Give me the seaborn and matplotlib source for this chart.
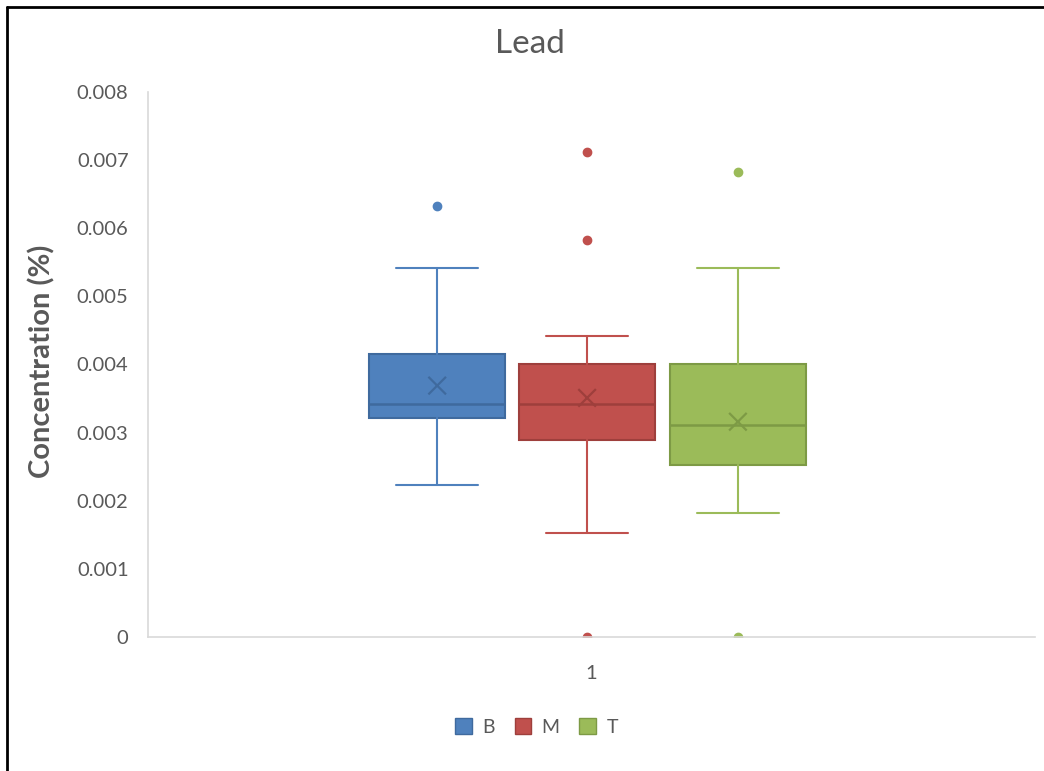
import matplotlib
matplotlib.use("Agg")
import matplotlib.pyplot as plt
from matplotlib.lines import Line2D
from matplotlib.patches import Patch
import seaborn as sns
import pandas as pd

# Summary statistics per series (concentration, %)
series = ["B", "M", "T"]
whisker_low = [0.00223, 0.00152, 0.00182]
q1 = [0.00322, 0.00289, 0.00252]
median = [0.00342, 0.00342, 0.00311]
q3 = [0.00416, 0.00401, 0.00401]
whisker_high = [0.00542, 0.00442, 0.00542]
mean = [0.00369, 0.00351, 0.00316]
outliers = [[0.00632], [0.00712, 0.00583, 0.0], [0.00682, 0.0]]
category_labels = ["1"]

fill_colors = ["#4F81BD", "#C0504D", "#9BBB59"]
edge_colors = ["#3F6A9E", "#9E3F3C", "#7D9A45"]
text_color = "#595959"
axis_color = "#D9D9D9"

sns.set_theme(style="white")
plt.rcParams["font.family"] = ["Lato", "DejaVu Sans"]

fig = plt.figure(figsize=(10.44, 7.71), dpi=100)
ax = fig.add_axes([0.1418, 0.1738, 0.8496, 0.7069])

offsets = [-0.174, -0.005, 0.165]
box_width = 0.154

for i, name in enumerate(series):
    stats = [{
        "whislo": whisker_low[i], "q1": q1[i], "med": median[i],
        "q3": q3[i], "whishi": whisker_high[i], "fliers": outliers[i],
        "label": name,
    }]
    ax.bxp(
        stats, positions=[offsets[i]], widths=box_width, patch_artist=True,
        showfliers=True, manage_ticks=False,
        boxprops=dict(facecolor=fill_colors[i], edgecolor=edge_colors[i], linewidth=1.5),
        medianprops=dict(color=edge_colors[i], linewidth=1.8),
        whiskerprops=dict(color=fill_colors[i], linewidth=1.5),
        capprops=dict(color=fill_colors[i], linewidth=1.5),
        capwidths=box_width * 0.6,
        flierprops=dict(marker="o", markerfacecolor=fill_colors[i],
                        markeredgecolor=fill_colors[i], markersize=6),
    )

# Mean markers
mean_df = pd.DataFrame({"x": offsets, "mean": mean, "series": series})
sns.scatterplot(data=mean_df, x="x", y="mean", hue="series",
                palette=edge_colors, marker="x", s=160, linewidth=1.6,
                legend=False, ax=ax, zorder=5)

ax.set_xlim(-0.5, 0.5)
ax.set_ylim(0, 0.008)
ax.set_yticks([i * 0.001 for i in range(9)])
ax.set_yticklabels(["0"] + [f"{i * 0.001:.3f}" for i in range(1, 9)])
ax.set_xticks([0])
ax.set_xticklabels(category_labels)
ax.set_xlabel("")
ax.set_ylabel("")
ax.tick_params(axis="y", length=0, pad=14, labelsize=14.5, labelcolor=text_color)
ax.tick_params(axis="x", length=0, pad=20, labelsize=14.5, labelcolor=text_color)

for side in ["top", "right"]:
    ax.spines[side].set_visible(False)
ax.spines["left"].set_color(axis_color)
ax.spines["bottom"].set_color(axis_color)
ax.spines["left"].set_linewidth(1.2)
ax.spines["bottom"].set_linewidth(1.2)

fig.text(0.508, 0.943, "Lead", ha="center", va="center",
         fontsize=24, color=text_color)
fig.text(42 / 1044, 0.532, "Concentration (%)", ha="center", va="center",
         rotation=90, fontsize=21, fontweight="bold", color=text_color)

handles = [Patch(facecolor=fill_colors[i], edgecolor=edge_colors[i], label=s)
           for i, s in enumerate(series)]
fig.legend(handles=handles, loc="center", bbox_to_anchor=(0.514, 0.057),
           ncol=3, frameon=False, fontsize=14, handlelength=0.85,
           handleheight=0.85, handletextpad=0.55, columnspacing=1.0,
           labelcolor=text_color)

# Outer frame on the top and left edges
fig.add_artist(Line2D([6.5 / 1044, 1], [1 - 6.5 / 771] * 2,
                      transform=fig.transFigure, color="black", lw=2))
fig.add_artist(Line2D([6.5 / 1044] * 2, [0, 1 - 6.5 / 771],
                      transform=fig.transFigure, color="black", lw=2))

fig.savefig("out.png", dpi=100)
